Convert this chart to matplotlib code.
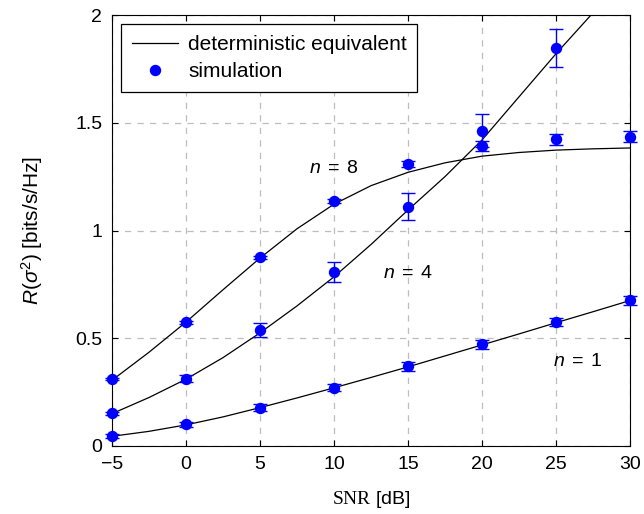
import matplotlib
matplotlib.use("Agg")
import matplotlib.pyplot as plt
from matplotlib.lines import Line2D

plt.rcParams['font.family'] = ['Liberation Sans', 'DejaVu Sans']
plt.rcParams['mathtext.fontset'] = 'custom'
plt.rcParams['mathtext.rm'] = 'Liberation Sans'
plt.rcParams['mathtext.it'] = 'Liberation Sans:italic'
plt.rcParams['mathtext.cal'] = 'Liberation Serif'   # used for the serif "SNR"

snr_line = [-5, -2.5, 0, 2.5, 5, 7.5, 10, 12.5, 15, 17.5, 20, 22.5, 25, 27.5, 30]
de_n1 = [0.045, 0.068, 0.098, 0.135, 0.178, 0.223, 0.270, 0.318, 0.367, 0.418, 0.469, 0.520, 0.572, 0.623, 0.675]
de_n4 = [0.150, 0.225, 0.310, 0.410, 0.525, 0.650, 0.785, 0.935, 1.095, 1.250, 1.420, 1.620, 1.820, 2.010, 2.200]
de_n8 = [0.305, 0.435, 0.575, 0.725, 0.872, 1.008, 1.122, 1.208, 1.270, 1.314, 1.345, 1.362, 1.373, 1.379, 1.383]

# simulation points with error bars
snr_sim = [-5, 0, 5, 10, 15, 20, 25, 30]
sim_n1 = [0.046, 0.100, 0.178, 0.270, 0.369, 0.471, 0.575, 0.676]
err_n1 = [0.010, 0.012, 0.016, 0.017, 0.020, 0.020, 0.020, 0.020]
sim_n4 = [0.151, 0.313, 0.537, 0.807, 1.111, 1.463, 1.846]
err_n4 = [0.008, 0.017, 0.033, 0.046, 0.064, 0.077, 0.087]
sim_n8 = [0.309, 0.574, 0.876, 1.136, 1.309, 1.394, 1.424, 1.435]
err_n8 = [0.005, 0.006, 0.008, 0.010, 0.012, 0.023, 0.026, 0.025]

labels = [(10.0, 1.29, r'$n\;=\;8$'), (15.0, 0.80, r'$n\;=\;4$'), (26.5, 0.39, r'$n\;=\;1$')]

fig = plt.figure(figsize=(6.44, 5.14), dpi=100)
ax = fig.add_axes([0.1739, 0.1323, 0.8043, 0.8385])

for y in (de_n1, de_n4, de_n8):
    ax.plot(snr_line, y, color='black', lw=0.9, zorder=3)

for y, e in ((sim_n1, err_n1), (sim_n4, err_n4), (sim_n8, err_n8)):
    ax.errorbar(snr_sim[:len(y)], y, yerr=e, fmt='o', color='#0000ff', ms=7.2,
                capsize=5, elinewidth=1, capthick=1, zorder=4, clip_on=False)

for x, y, t in labels:
    ax.text(x, y, t, fontsize=14, ha='center', va='center')

ax.set_xlim(-5, 30)
ax.set_ylim(0, 2)
ax.set_xticks([-5, 0, 5, 10, 15, 20, 25, 30])
ax.set_yticks([0, 0.5, 1, 1.5, 2])
ax.set_yticklabels(['0', '0.5', '1', '1.5', '2'])
ax.tick_params(direction='in', top=True, right=True, labelsize=14, length=4, pad=7)
ax.grid(True, color='#bdbdbd', linestyle=(0, (5, 5)), lw=0.9)
ax.set_axisbelow(True)

ax.set_xlabel(r'$\mathcal{SNR}$ [dB]', fontsize=14, labelpad=12)
ax.set_ylabel(r'$R(\sigma^2)$ [bits/s/Hz]', fontsize=15, labelpad=22)

handles = [Line2D([], [], color='black', lw=0.9),
           Line2D([], [], color='#0000ff', marker='o', ls='none', ms=7.2)]
leg = ax.legend(handles, ['deterministic equivalent', 'simulation'], loc='upper left',
                bbox_to_anchor=(0.018, 0.978), fontsize=15, fancybox=False,
                edgecolor='black', framealpha=1, borderaxespad=0, handlelength=2.2,
                labelspacing=0.4, borderpad=0.5, handletextpad=0.5)
leg.get_frame().set_linewidth(0.9)

fig.savefig('out.png', dpi=100)
